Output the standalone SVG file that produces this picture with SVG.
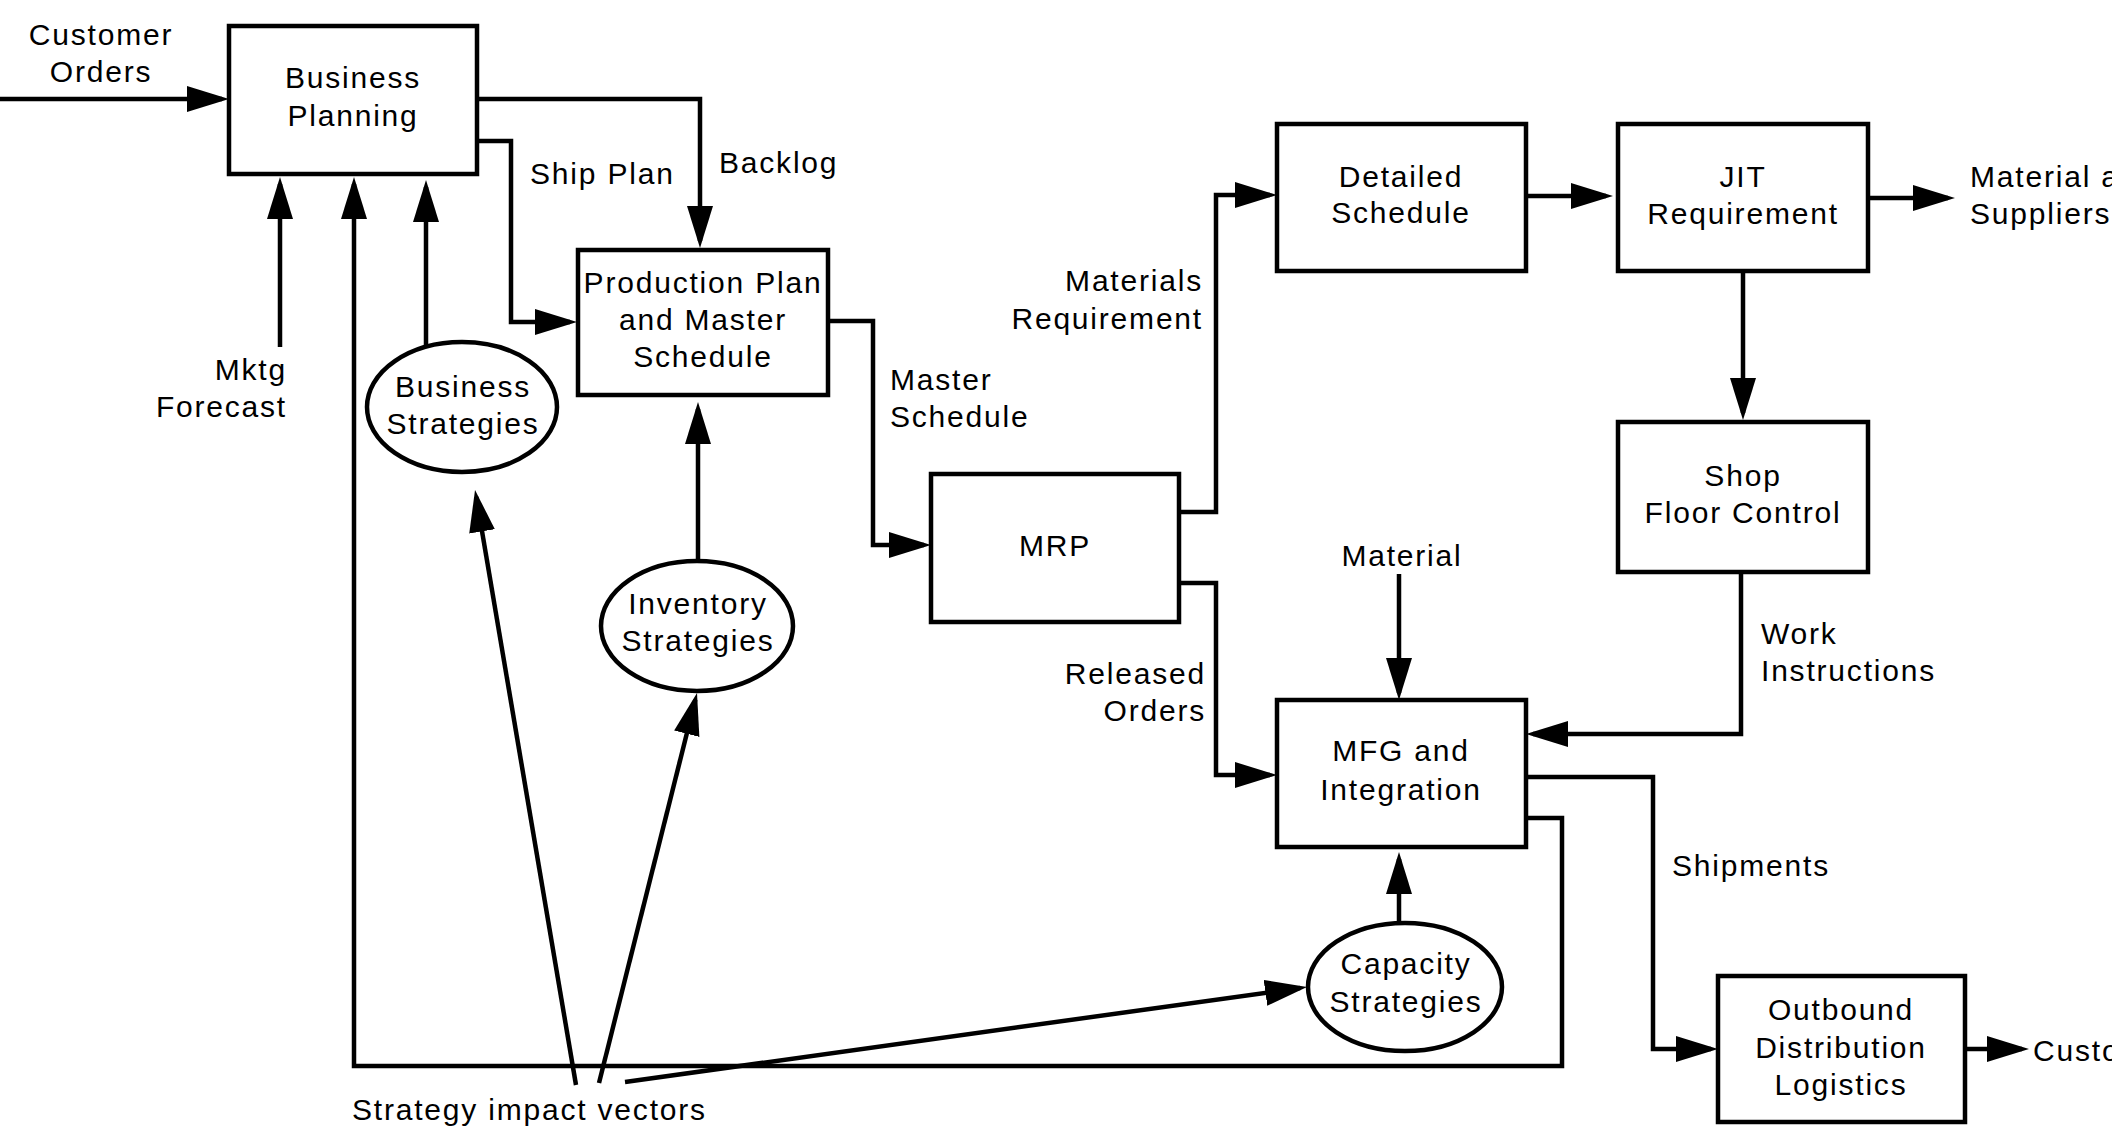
<svg xmlns="http://www.w3.org/2000/svg" width="2112" height="1127" viewBox="0 0 2112 1127">
  <style>
    text { font-family: "Liberation Sans", Arial, Helvetica, sans-serif; font-size: 30px; letter-spacing: 1.8px; fill: #000; }
    .c { text-anchor: middle; }
    .r { text-anchor: end; }
    .box { fill: #fff; stroke: #000; stroke-width: 4.5; }
    .oval { fill: #fff; stroke: #000; stroke-width: 4.5; }
    .flow { fill: none; stroke: #000; stroke-width: 4.5; stroke-linejoin: miter; marker-end: url(#head); }
    .line { fill: none; stroke: #000; stroke-width: 4.5; }
  </style>
  <defs>
    <marker id="head" markerUnits="userSpaceOnUse" markerWidth="44" markerHeight="28" refX="35" refY="13" orient="auto">
      <path d="M0,0 L42,13 L0,26 Z" fill="#000"/>
    </marker>
  </defs>

  <rect x="0" y="0" width="2112" height="1127" fill="#fff"/>

  <!-- connectors -->
  <g id="connectors">
    <path class="flow" d="M0,99 H222"/>
    <path class="flow" d="M477,99 H700 V241"/>
    <path class="flow" d="M477,141 H511 V322 H570"/>
    <path class="flow" d="M280,347 V184"/>
    <path class="flow" d="M1526,818 H1562 V1066 H354 V184"/>
    <path class="flow" d="M426,347 V187"/>
    <path class="flow" d="M698,560 V409"/>
    <path class="flow" d="M828,321 H873 V545 H924"/>
    <path class="flow" d="M1179,512 H1216 V195 H1270"/>
    <path class="flow" d="M1526,196 H1606"/>
    <path class="flow" d="M1868,198 H1948"/>
    <path class="flow" d="M1743,271 V413"/>
    <path class="flow" d="M1179,583 H1216 V775 H1270"/>
    <path class="flow" d="M1399,574 V693"/>
    <path class="flow" d="M1741,572 V734 H1533"/>
    <path class="flow" d="M1399,923 V859"/>
    <path class="flow" d="M1526,777 H1653 V1049 H1711"/>
    <path class="flow" d="M1965,1049 H2022"/>
    <path class="flow" d="M576,1085 L476.2,496.9"/>
    <path class="flow" d="M599,1083 L695.3,699.8"/>
    <path class="flow" d="M625,1082 L1300.1,988"/>
  </g>

  <!-- process boxes -->
  <g id="business-planning">
    <rect class="box" x="229" y="26" width="248" height="148"/>
    <text class="c" x="353" y="88">Business</text>
    <text class="c" x="353" y="126">Planning</text>
  </g>
  <g id="production-plan">
    <rect class="box" x="578" y="250" width="250" height="145"/>
    <text class="c" x="703" y="293">Production Plan</text>
    <text class="c" x="703" y="330">and Master</text>
    <text class="c" x="703" y="367">Schedule</text>
  </g>
  <g id="detailed-schedule">
    <rect class="box" x="1277" y="124" width="249" height="147"/>
    <text class="c" x="1401" y="187">Detailed</text>
    <text class="c" x="1401" y="223">Schedule</text>
  </g>
  <g id="jit-requirement">
    <rect class="box" x="1618" y="124" width="250" height="147"/>
    <text class="c" x="1743" y="187">JIT</text>
    <text class="c" x="1743" y="224">Requirement</text>
  </g>
  <g id="shop-floor-control">
    <rect class="box" x="1618" y="422" width="250" height="150"/>
    <text class="c" x="1743" y="486">Shop</text>
    <text class="c" x="1743" y="523">Floor Control</text>
  </g>
  <g id="mrp">
    <rect class="box" x="931" y="474" width="248" height="148"/>
    <text class="c" x="1055" y="556">MRP</text>
  </g>
  <g id="mfg-integration">
    <rect class="box" x="1277" y="700" width="249" height="147"/>
    <text class="c" x="1401" y="761">MFG and</text>
    <text class="c" x="1401" y="800">Integration</text>
  </g>
  <g id="outbound-distribution">
    <rect class="box" x="1718" y="976" width="247" height="146"/>
    <text class="c" x="1841" y="1020">Outbound</text>
    <text class="c" x="1841" y="1058">Distribution</text>
    <text class="c" x="1841" y="1095">Logistics</text>
  </g>

  <!-- strategy ovals -->
  <g id="business-strategies">
    <ellipse class="oval" cx="462" cy="407" rx="95" ry="65"/>
    <text class="c" x="463" y="397">Business</text>
    <text class="c" x="463" y="434">Strategies</text>
  </g>
  <g id="inventory-strategies">
    <ellipse class="oval" cx="697" cy="626" rx="96" ry="65"/>
    <text class="c" x="698" y="614">Inventory</text>
    <text class="c" x="698" y="651">Strategies</text>
  </g>
  <g id="capacity-strategies">
    <ellipse class="oval" cx="1405" cy="987" rx="97" ry="64"/>
    <text class="c" x="1406" y="974">Capacity</text>
    <text class="c" x="1406" y="1012">Strategies</text>
  </g>

  <!-- flow labels -->
  <g id="labels">
    <text class="c" x="101" y="45">Customer</text>
    <text class="c" x="101" y="82">Orders</text>
    <text class="r" x="287" y="380">Mktg</text>
    <text class="r" x="287" y="417">Forecast</text>
    <text x="530" y="184">Ship Plan</text>
    <text x="719" y="173">Backlog</text>
    <text x="890" y="390">Master</text>
    <text x="890" y="427">Schedule</text>
    <text class="r" x="1203" y="291">Materials</text>
    <text class="r" x="1203" y="329">Requirement</text>
    <text class="r" x="1206" y="684">Released</text>
    <text class="r" x="1206" y="721">Orders</text>
    <text class="c" x="1402" y="566">Material</text>
    <text x="1761" y="644">Work</text>
    <text x="1761" y="681">Instructions</text>
    <text x="1672" y="876">Shipments</text>
    <text x="1970" y="187">Material and</text>
    <text x="1970" y="224">Suppliers</text>
    <text x="2033" y="1061">Customers</text>
    <text x="352" y="1120">Strategy impact vectors</text>
  </g>
</svg>
